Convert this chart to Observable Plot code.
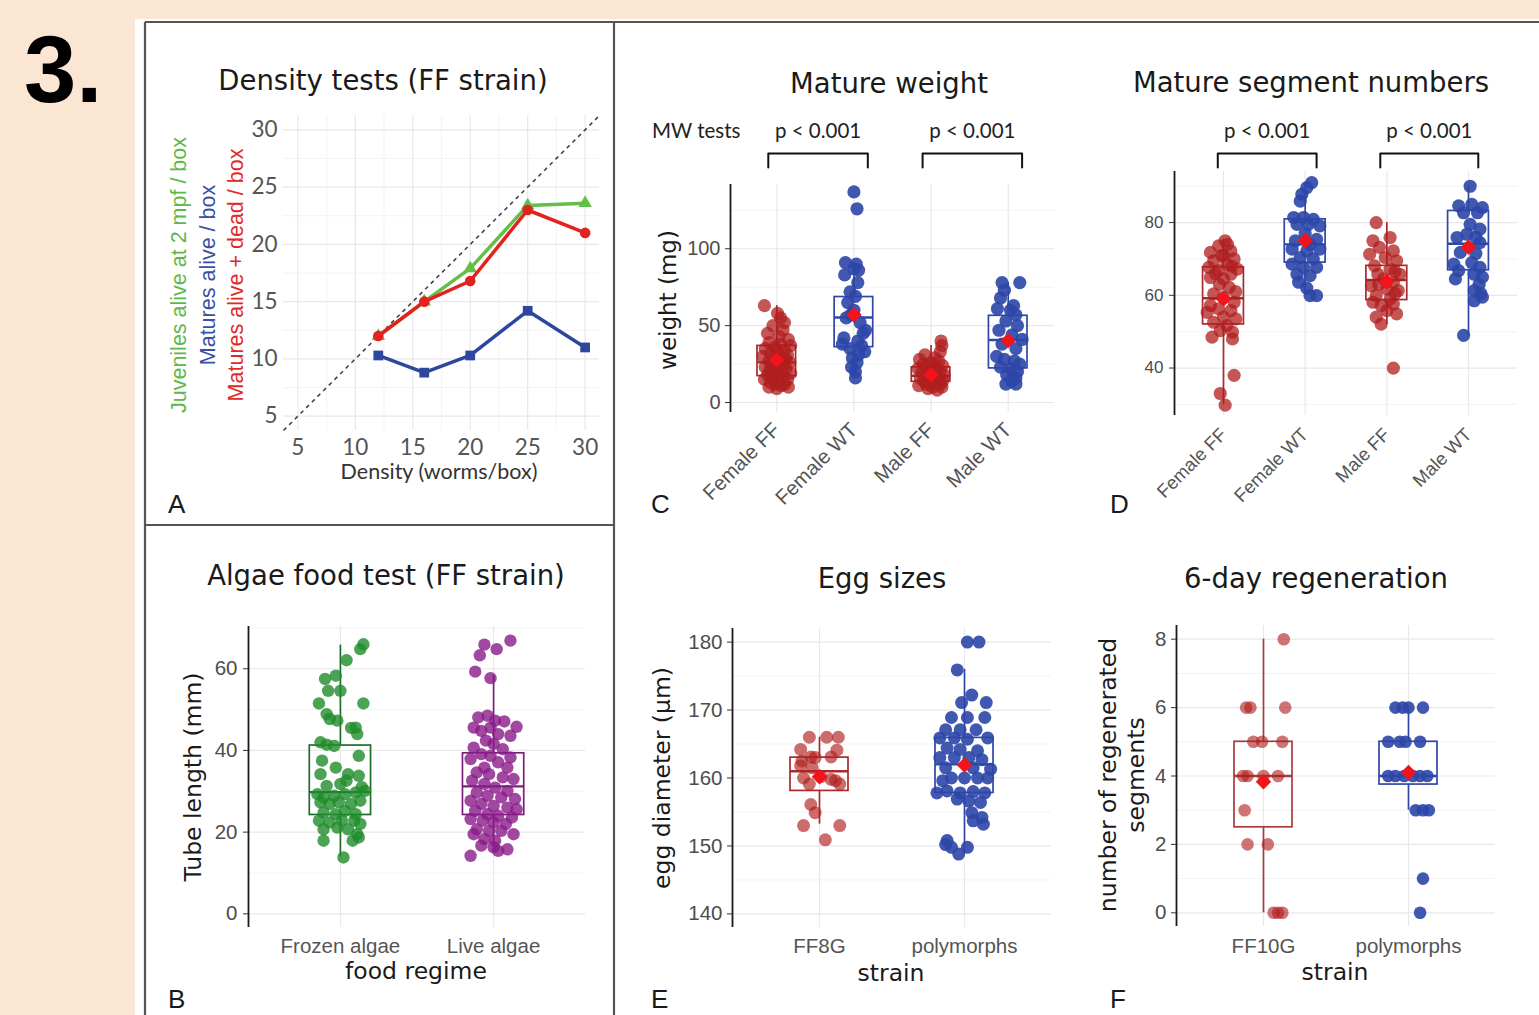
<!DOCTYPE html>
<html><head><meta charset="utf-8">
<script src="https://cdn.jsdelivr.net/npm/d3@7"></script>
<script src="https://cdn.jsdelivr.net/npm/@observablehq/plot@0.6"></script>
<style>
body{margin:0;background:#fbe5d3;}
#page{position:relative;width:1539px;height:1015px;overflow:hidden;background:#fbe5d3;}
</style></head><body><div id="page"></div>
<script>
// ---------------- DATA ----------------
// Panel A: density tests
const density = [12, 16, 20, 25, 30];
const juvenilesAlive = [12, 15, 17.9, 23.4, 23.6];
const maturesAlive = [10.3, 8.8, 10.3, 14.2, 11.0];
const maturesAliveDead = [12, 15, 16.8, 23.0, 21.0];
const densityTicks = [5, 10, 15, 20, 25, 30];
const densityMinor = [7.5, 12.5, 17.5, 22.5, 27.5];

// Panel C: mature weight (value, jitter offset)
const weightGroups = ["Female FF", "Female WT", "Male FF", "Male WT"];
const weightFemaleFF = [[63,-0.16],[58,0.01],[55,0.05],[52,0.10],[50,-0.05],[47,0.08],[45,-0.12],[43,0.03],[41,0.15],[39,-0.10],[38,0.05],[37,0.18],[36,-0.02],[35,-0.15],[34,0.10],[33,0.00],[32,-0.08],[31,0.14],[30,-0.18],[30,0.05],[29,-0.03],[28,0.12],[27,-0.10],[27,0.02],[26,0.17],[25,-0.06],[24,0.08],[23,-0.15],[23,0.00],[22,0.12],[21,-0.09],[20,0.05],[20,-0.02],[19,0.18],[18,-0.12],[17,0.08],[16,-0.05],[15,0.14],[15,-0.16],[14,0.02],[13,-0.08],[12,0.10],[12,-0.02],[11,0.06],[10,-0.10],[10,0.15],[9,0.00]];
const weightFemaleWT = [[137,0.00],[126,0.04],[91,-0.11],[90,0.03],[87,0.00],[86,0.06],[83,-0.12],[78,0.05],[72,-0.05],[69,0.02],[65,-0.08],[60,0.00],[57,-0.04],[55,-0.10],[52,0.08],[47,0.15],[45,0.12],[42,-0.13],[40,0.05],[38,-0.15],[37,0.10],[35,-0.05],[33,0.14],[31,0.06],[29,-0.02],[26,0.04],[23,-0.03],[20,0.02],[16,0.02]];
const weightMaleFF = [[40,0.13],[37,0.14],[33,0.12],[31,-0.08],[29,0.05],[28,-0.15],[27,0.10],[26,0.00],[25,-0.10],[24,0.15],[23,-0.05],[22,0.08],[22,-0.17],[21,0.03],[20,-0.12],[20,0.12],[19,-0.02],[18,0.17],[18,-0.08],[17,0.06],[16,-0.14],[16,0.10],[15,0.00],[14,-0.10],[14,0.15],[13,0.04],[12,-0.06],[12,0.12],[11,-0.16],[10,0.02],[10,0.14],[9,-0.04],[8,0.08]];
const weightMaleWT = [[78,-0.08],[78,0.15],[73,-0.05],[68,-0.10],[63,0.07],[61,-0.14],[60,0.03],[57,0.10],[53,-0.03],[50,0.12],[47,-0.12],[44,0.05],[41,0.18],[38,-0.08],[35,0.10],[30,-0.15],[28,-0.05],[27,0.08],[25,0.15],[23,-0.10],[22,0.03],[20,0.12],[18,-0.02],[16,0.10],[14,0.05],[12,-0.03],[12,0.10]];
// box stats per group: [q1, median, q3, lowerWhisker, upperWhisker]
const weightBox = [[17.2,26.1,36.8,9,63],[36,55.3,68.6,16,91],[13.5,17.4,22.9,8,37],[22.2,40.7,56.4,12,78]];
const weightMean = [27.7, 57, 17.9, 40.3];
const weightTicks = [0, 50, 100];
const weightMinor = [25, 75, 125];

// Panel D: mature segment numbers
const segFemaleFF = [[75,0.02],[73.6,-0.06],[72.2,0.09],[71.8,-0.16],[70.9,-0.02],[70,0.13],[69.5,-0.12],[68.6,0.04],[67.7,-0.18],[67.2,0.17],[66.8,-0.06],[65.8,0.09],[64.9,-0.16],[64.5,0],[62.2,0.07],[60.4,-0.12],[59.5,0],[58.1,0.13],[57.2,-0.16],[56.3,-0.06],[55.8,0.09],[55.3,-0.2],[54,0],[53.5,0.15],[52.6,-0.12],[51.7,0.04],[50.3,-0.04],[49.9,0.11],[48.5,-0.14],[48,0.11],[38,0.13],[33,-0.04],[29.8,0.02],[74,0.05],[71,0],[68,0.1],[66,-0.1],[63,-0.05],[61,0.15]];
const segFemaleWT = [[91,0.08],[89.6,0.02],[87.8,-0.04],[85.9,-0.06],[81.4,-0.14],[81.4,-0.02],[80.9,0.10],[79.5,-0.10],[79.5,0.04],[79.1,0.18],[75,-0.12],[75.4,0.14],[72.7,-0.16],[72.2,0.02],[72.7,0.18],[70.4,-0.06],[70,0.10],[68.6,-0.16],[67.7,-0.02],[67.7,0.14],[65.8,-0.10],[65.4,0.06],[63.6,-0.08],[62,0.02],[59.9,0.06],[59.9,0.14],[77,0],[74,0.06]];
const segMaleFF = [[80,-0.13],[75,-0.17],[75.9,0.04],[73.2,-0.09],[72.2,0.08],[71.3,-0.21],[70.4,-0.02],[69.5,0.12],[68.1,-0.15],[67.2,0.04],[65.8,-0.11],[65.8,0.16],[64.5,-0.04],[63.6,0.08],[62.6,-0.19],[61.7,0],[61.3,0.14],[59.9,-0.13],[59,0.04],[58.1,-0.17],[57.6,0.08],[57.2,-0.07],[55.8,0],[54.9,0.12],[54,-0.13],[52.1,-0.07],[40,0.08],[66.5,0.1],[63,-0.1],[60.5,0.1]];
const segMaleWT = [[90,0.02],[84.6,-0.12],[85,0.04],[84.1,0.17],[82.7,-0.06],[82.7,0.11],[79.5,0.02],[78.2,0.14],[75.9,-0.14],[76.8,-0.02],[76,0.09],[74.5,0.14],[71.8,-0.10],[71.5,0.09],[68.6,-0.18],[69,0.04],[67.7,0.14],[66.8,-0.12],[65.8,0.07],[65,0.17],[64.5,-0.16],[63,0.13],[61.3,0.07],[60.5,0.15],[59.5,0.17],[58.5,0.07],[49,-0.06]];
const segBox = [[52,59.2,67.7,30,75.4],[69,74,80.9,60,91],[58.7,64.2,68.1,52,80],[66.9,74.2,83.2,49,90]];
const segMean = [59, 75, 63.7, 73.3];
const segTicks = [40, 60, 80];
const segMinor = [30, 50, 70, 90];

// Panel B: algae food test
const foodGroups = ["Frozen algae", "Live algae"];
const tubeFrozen = [[66,0.15],[64.8,0.13],[62.1,0.04],[57.5,-0.10],[58.3,-0.03],[54.6,-0.08],[54.6,0],[51.5,-0.14],[51.5,0.15],[48.9,-0.09],[47.7,-0.07],[47.3,-0.02],[45.5,0.07],[45.6,0.10],[44,0.11],[42,-0.13],[41.4,-0.09],[41.1,-0.04],[38.7,0.12],[37.5,-0.12],[35.8,-0.03],[34.2,-0.13],[34.2,0.05],[33.8,0.12],[31,0.14],[31.3,-0.09],[31.8,0],[32.6,0.04],[29.3,-0.15],[28.5,-0.11],[28.9,-0.04],[29.3,0.03],[29.7,0.10],[30.1,0.16],[27.3,-0.13],[26.9,-0.07],[27.3,-0.01],[26.9,0.07],[27.7,0.13],[24.8,-0.11],[24.4,-0.03],[25.2,0.03],[24.4,0.10],[22.8,-0.14],[22.4,-0.07],[22.8,0.01],[22.8,0.09],[22,0.13],[20.7,-0.11],[21.1,-0.02],[20.7,0.05],[19.5,0.11],[17.9,-0.11],[17.9,0.08],[18.7,0.12],[13.8,0.02]];
const tubeLive = [[66.9,0.11],[65.9,-0.06],[64.8,0.02],[63.3,-0.09],[59.3,-0.12],[57.7,-0.02],[48.1,-0.10],[48.5,-0.04],[47.3,0.01],[47.1,0.07],[45.8,0.15],[45.6,-0.13],[44.8,-0.08],[45.6,-0.02],[44,0.03],[43.6,0.11],[42.4,-0.05],[41.6,0],[40.7,-0.13],[40.3,0.06],[39.1,-0.08],[38.7,-0.02],[38.3,0.11],[37.9,-0.15],[37.1,0.03],[35.8,-0.06],[35.8,0.09],[34.6,-0.11],[34.2,-0.03],[33.4,0.06],[33,0.13],[32.6,-0.14],[31.8,-0.06],[30.9,0.01],[30.1,0.09],[29.7,-0.11],[28.9,-0.04],[28.5,0.05],[28.1,0.14],[27.7,-0.15],[26.9,-0.08],[26.4,0],[26,0.09],[25.6,0.15],[25.2,-0.12],[24.4,-0.04],[24,0.03],[23.6,0.12],[23.2,-0.15],[22.8,-0.07],[22.4,0],[22,0.08],[20.7,-0.11],[20.3,-0.03],[20.3,0.05],[19.5,0.13],[19.5,-0.13],[18.3,-0.06],[17.9,0.01],[16.7,-0.08],[16.3,0],[15.8,0.09],[15.4,0.03],[14.2,-0.15]];
const tubeBox = [[24.2,29.8,41.2,13.9,65.8],[24.2,31.2,39.3,15.4,58.4]];
const tubeTicks = [0, 20, 40, 60];
const tubeMinor = [10, 30, 50, 70];

// Panel E: egg sizes
const eggGroups = ["FF8G", "polymorphs"];
const eggFF8G = [[166,-0.07],[166,0.05],[166,0.13],[164.2,-0.13],[164.1,0.12],[163.1,-0.06],[163,-0.03],[163.1,0.08],[162.5,-0.12],[161.8,-0.13],[161.5,-0.05],[160,-0.11],[160.2,0.01],[159.8,0.08],[159.1,-0.07],[159.1,0.14],[159.6,0.11],[156.1,-0.06],[154.9,-0.03],[153,-0.11],[153,0.14],[150.9,0.04]];
const eggPoly = [[180,0.02],[180,0.10],[175.9,-0.05],[172.2,0.05],[171.1,-0.02],[171.1,0.15],[168.9,-0.09],[168.9,0.02],[168.9,0.14],[167.1,-0.13],[167.1,-0.03],[167.1,0.08],[165.9,-0.17],[165.9,-0.07],[165.7,0.02],[165.9,0.16],[164.4,-0.12],[164.2,-0.03],[164,0.09],[163,-0.17],[163,-0.07],[163,0.03],[162.7,0.12],[161.5,-0.13],[161.5,0.06],[161.3,0.18],[160,-0.09],[160,0],[160,0.09],[160,0.16],[159.6,-0.15],[158.1,-0.12],[157.8,-0.03],[158,0.06],[157.8,0.14],[157.8,-0.19],[156.9,-0.05],[156.6,0.03],[156.4,0.11],[154.9,0.05],[154.2,0.12],[153.7,0.06],[153.2,0.13],[150.8,-0.12],[149.8,-0.09],[149.8,0.02],[148.8,-0.04],[150.2,-0.13]];
const eggBox = [[158.1,161,163,153.2,166],[157.8,162,165.9,149,176]];
const eggMean = [160.2, 161.9];
const eggTicks = [140, 150, 160, 170, 180];
const eggMinor = [145, 155, 165, 175];

// Panel F: 6-day regeneration
const regenGroups = ["FF10G", "polymorphs"];
const regenFF10G = [[8,0.14],[6,-0.12],[6,-0.09],[6,0.15],[5,-0.07],[5,-0.01],[5,0.13],[4,-0.14],[4,-0.11],[4,0],[4,0.10],[3,-0.13],[2,-0.11],[2,0.03],[0,0.07],[0,0.10],[0,0.13]];
const regenPoly = [[6,-0.09],[6,-0.04],[6,0],[6,0.10],[5,-0.14],[5,-0.06],[5,-0.02],[5,0.08],[4,-0.14],[4,-0.09],[4,-0.03],[4,0.03],[4,0.08],[4,0.13],[3,0.05],[3,0.10],[3,0.14],[1,0.10],[0,0.08]];
const regenBox = [[2.5,4,5,0,8],[3.75,4,5,3,6]];
const regenMean = [3.83, 4.1];
const regenTicks = [0, 2, 4, 6, 8];
const regenMinor = [1, 3, 5, 7];

// Significance brackets (category units) and labels
const weightBrackets = [[0.89, 2.18], [2.89, 4.18]];
const segBrackets = [[0.93, 2.14], [2.92, 4.12]];
const pLabel = "p < 0.001";

// ---------------- DRAWING ----------------
const W = 1539, H = 1015;
const page = document.getElementById("page");
const GRID = "#e8e8e8", GRIDMINOR = "#f0f0f0";
const RED = "#b01e1e", BLUE = "#2c46a8", GREEN = "#1f8c2c", PURPLE = "#8a1a8a", MEANRED = "#f2131b";
const TICKCOL = "#4d4d4d";

const bg = document.createElement("div");
Object.assign(bg.style, {position: "absolute", left: "135px", top: "19px", width: (W - 135) + "px", height: (H - 19) + "px", background: "#fff"});
page.appendChild(bg);

function frame(L, T, R, B) {
  return {width: W, height: H, marginLeft: L, marginTop: T, marginRight: W - R, marginBottom: H - B};
}
function addPlot(opts) {
  const svg = Plot.plot(opts);
  Object.assign(svg.style, {position: "absolute", left: "0px", top: "0px", background: "transparent", overflow: "visible", maxWidth: "none"});
  page.appendChild(svg);
}

// ---- Panel A
(function () {
  const dom = [3.75, 31.25];
  const series = [
    {values: juvenilesAlive, color: "#64be47", symbol: "triangle", r: 5},
    {values: maturesAlive, color: "#2d479f", symbol: "square", r: 5.5},
    {values: maturesAliveDead, color: "#e3221f", symbol: "circle", r: 5.3},
  ];
  const marks = [
    Plot.ruleY(densityMinor, {stroke: GRIDMINOR, strokeWidth: 0.8}),
    Plot.ruleX(densityMinor, {stroke: GRIDMINOR, strokeWidth: 0.8}),
    Plot.ruleY(densityTicks, {stroke: GRID, strokeWidth: 1.2}),
    Plot.ruleX(densityTicks, {stroke: GRID, strokeWidth: 1.2}),
    Plot.link([dom], {x1: d => d[0], y1: d => d[0], x2: d => d[1], y2: d => d[1], stroke: "#444", strokeWidth: 1.6, strokeDasharray: "4,4"}),
  ];
  for (const s of series) {
    const rows = density.map((d, i) => ({x: d, y: s.values[i]}));
    marks.push(Plot.line(rows, {x: "x", y: "y", stroke: s.color, strokeWidth: 3.5}));
    marks.push(Plot.dot(rows, {x: "x", y: "y", symbol: s.symbol, fill: s.color, r: s.r}));
  }
  marks.push(Plot.axisX(densityTicks, {tickSize: 0, tickPadding: 9, fontSize: 22.5, fontFamily: "Lato", color: "#555", label: null}));
  marks.push(Plot.axisY(densityTicks, {tickSize: 0, tickPadding: 6, fontSize: 22.5, fontFamily: "Lato", color: "#555", label: null}));
  addPlot({...frame(283, 115, 599, 430), x: {domain: dom, axis: null}, y: {domain: dom, axis: null}, marks});
})();

// ---- Box panels
function boxPanel(c) {
  const n = c.labels.length;
  const cats = d3.range(1, n + 1);
  const marks = [
    Plot.ruleY(c.yMinor, {stroke: GRIDMINOR, strokeWidth: 0.8}),
    Plot.ruleY(c.yTicks, {stroke: GRID, strokeWidth: 1.2}),
    Plot.ruleX(cats, {stroke: GRID, strokeWidth: 1.2}),
  ];
  c.groups.forEach((g, i) => {
    const cat = i + 1, hw = c.bw / 2;
    const b = [c.box[i]];
    marks.push(Plot.ruleX(b, {x: () => cat, y1: d => d[2], y2: d => d[4], stroke: g.line, strokeWidth: 1.7}));
    marks.push(Plot.ruleX(b, {x: () => cat, y1: d => d[3], y2: d => d[0], stroke: g.line, strokeWidth: 1.7}));
    marks.push(Plot.rect(b, {x1: () => cat - hw, x2: () => cat + hw, y1: d => d[0], y2: d => d[2], fill: "none", stroke: g.line, strokeWidth: 1.7}));
    marks.push(Plot.ruleY(b, {y: d => d[1], x1: () => cat - hw, x2: () => cat + hw, stroke: g.line, strokeWidth: 2.4}));
  });
  c.groups.forEach((g, i) => {
    const cat = i + 1;
    marks.push(Plot.dot(g.pts, {x: d => cat + d[1], y: d => d[0], r: c.r, fill: g.fill, fillOpacity: g.op}));
  });
  if (c.mean) {
    marks.push(Plot.dot(c.mean, {x: (d, i) => i + 1, y: d => d, symbol: "diamond2", r: 7, fill: MEANRED}));
  }
  marks.push(Plot.ruleX([0.4], {stroke: "#1a1a1a", strokeWidth: 1.8}));
  marks.push(Plot.axisY(c.yTicks, {tickSize: 5, tickPadding: c.yPad, stroke: "#333", color: TICKCOL, fontSize: c.fs, fontFamily: "Liberation Sans", label: null}));
  marks.push(Plot.axisX(cats, {tickSize: 0, tickPadding: c.xPad, tickRotate: c.rotate || 0, tickFormat: d => c.labels[d - 1], color: "#555", fontSize: c.xfs || c.fs, fontFamily: "Liberation Sans", label: null}));
  if (c.brackets) {
    const rows = c.brackets.flatMap((br, k) => [
      {k, x: br[0], y: c.bY[1]}, {k, x: br[0], y: c.bY[0]}, {k, x: br[1], y: c.bY[0]}, {k, x: br[1], y: c.bY[1]}]);
    marks.push(Plot.line(rows, {x: "x", y: "y", z: "k", stroke: "#111", strokeWidth: 2}));
    marks.push(Plot.text(c.brackets, {x: d => (d[0] + d[1]) / 2, y: () => c.bY[2], text: () => pLabel, fontFamily: "Lato", fontSize: 20.5, fill: "#222", lineAnchor: "middle"}));
  }
  addPlot({...c.frame, x: {domain: [0.4, n + 0.6], axis: null}, y: {domain: c.yDomain, axis: null}, marks});
}

boxPanel({frame: frame(730, 184, 1054, 412), labels: weightGroups, yDomain: [-6.5, 141.8], yTicks: weightTicks, yMinor: weightMinor,
  groups: [{pts: weightFemaleFF, fill: RED, op: 0.75, line: "#a82a2a"}, {pts: weightFemaleWT, fill: BLUE, op: 0.9, line: "#3047a8"},
           {pts: weightMaleFF, fill: RED, op: 0.75, line: "#a82a2a"}, {pts: weightMaleWT, fill: BLUE, op: 0.9, line: "#3047a8"}],
  box: weightBox, mean: weightMean, bw: 0.5, r: 6.6, fs: 20, xfs: 20.5, yPad: 5, xPad: 14, rotate: -45,
  brackets: weightBrackets, bY: [162, 152.9, 176.3]});

boxPanel({frame: frame(1174, 171, 1517, 415), labels: weightGroups, yDomain: [26.95, 94.05], yTicks: segTicks, yMinor: segMinor,
  groups: [{pts: segFemaleFF, fill: RED, op: 0.75, line: "#a82a2a"}, {pts: segFemaleWT, fill: BLUE, op: 0.9, line: "#3047a8"},
           {pts: segMaleFF, fill: RED, op: 0.75, line: "#a82a2a"}, {pts: segMaleWT, fill: BLUE, op: 0.9, line: "#3047a8"}],
  box: segBox, mean: segMean, bw: 0.5, r: 6.6, fs: 17, xfs: 18.5, yPad: 6, xPad: 16, rotate: -45,
  brackets: segBrackets, bY: [99.0, 95.15, 105.05]});

boxPanel({frame: frame(248, 626, 585, 927), labels: foodGroups, yDomain: [-3.35, 70.35], yTicks: tubeTicks, yMinor: tubeMinor,
  groups: [{pts: tubeFrozen, fill: GREEN, op: 0.8, line: "#1f6f2a"}, {pts: tubeLive, fill: PURPLE, op: 0.8, line: "#7a1f7a"}],
  box: tubeBox, bw: 0.4, r: 6.2, fs: 20.5, yPad: 6, xPad: 11});

boxPanel({frame: frame(732, 628, 1051, 927), labels: eggGroups, yDomain: [138, 182], yTicks: eggTicks, yMinor: eggMinor,
  groups: [{pts: eggFF8G, fill: RED, op: 0.65, line: "#a82a2a"}, {pts: eggPoly, fill: BLUE, op: 0.9, line: "#3047a8"}],
  box: eggBox, mean: eggMean, bw: 0.4, r: 6.5, fs: 20.5, yPad: 5, xPad: 11});

boxPanel({frame: frame(1176, 625, 1495, 926), labels: regenGroups, yDomain: [-0.4, 8.4], yTicks: regenTicks, yMinor: regenMinor,
  groups: [{pts: regenFF10G, fill: RED, op: 0.62, line: "#a83a3a"}, {pts: regenPoly, fill: BLUE, op: 0.9, line: "#3047a8"}],
  box: regenBox, mean: regenMean, bw: 0.4, r: 6.3, fs: 20.5, yPad: 5, xPad: 12});

// ---- Annotation layer: borders, titles, axis titles, panel letters
const ann = d3.select(page).append("svg").attr("width", W).attr("height", H)
  .style("position", "absolute").style("left", "0px").style("top", "0px").style("overflow", "visible");
const borders = [[145, 22, W, 22], [145, 22, 145, H], [614, 22, 614, H], [145, 525, 614, 525]];
ann.selectAll("line.b").data(borders).join("line").attr("class", "b")
  .attr("x1", d => d[0]).attr("y1", d => d[1]).attr("x2", d => d[2]).attr("y2", d => d[3])
  .attr("stroke", "#555").attr("stroke-width", 2.2);

const TITLE = "DejaVu Sans", SANS = "Liberation Sans";
const texts = [
  {t: "3.", x: 24, y: 102, fs: 94, ff: SANS, fw: "bold", a: "start", c: "#000"},
  {t: "Density tests (FF strain)", x: 383, y: 90, fs: 27.5, ff: TITLE},
  {t: "Mature weight", x: 889, y: 93, fs: 27.5, ff: TITLE},
  {t: "Mature segment numbers", x: 1311, y: 92, fs: 27.5, ff: TITLE},
  {t: "Algae food test (FF strain)", x: 386, y: 585, fs: 27.5, ff: TITLE},
  {t: "Egg sizes", x: 882, y: 588, fs: 27.5, ff: TITLE},
  {t: "6-day regeneration", x: 1316, y: 588, fs: 27.5, ff: TITLE},
  {t: "MW tests", x: 652, y: 138, fs: 20.5, ff: "Lato", a: "start", c: "#222"},
  {t: "Density (worms/box)", x: 439, y: 479, fs: 21.5, ff: "Lato", c: "#333"},
  {t: "food regime", x: 416, y: 979, fs: 23.5, ff: TITLE},
  {t: "strain", x: 891, y: 981, fs: 23.5, ff: TITLE},
  {t: "strain", x: 1335, y: 980, fs: 23.5, ff: TITLE},
  {t: "Juveniles alive at 2 mpf / box", x: 186, y: 275, fs: 21.5, ff: SANS, c: "#5cb848", rot: true},
  {t: "Matures alive / box", x: 215, y: 275, fs: 21.5, ff: SANS, c: "#3a4fa6", rot: true},
  {t: "Matures alive + dead / box", x: 243, y: 275, fs: 21.5, ff: SANS, c: "#df2a26", rot: true},
  {t: "weight (mg)", x: 676, y: 300, fs: 23, ff: TITLE, rot: true},
  {t: "Tube length (mm)", x: 201, y: 777, fs: 23.5, ff: TITLE, rot: true},
  {t: "egg diameter (µm)", x: 670, y: 778, fs: 23.5, ff: TITLE, rot: true},
  {t: "number of regenerated", x: 1116, y: 775, fs: 23.5, ff: TITLE, rot: true},
  {t: "segments", x: 1144, y: 775, fs: 23.5, ff: TITLE, rot: true},
  {t: "A", x: 168, y: 513, fs: 26, ff: SANS, a: "start"},
  {t: "C", x: 651, y: 513, fs: 26, ff: SANS, a: "start"},
  {t: "D", x: 1110, y: 513, fs: 26, ff: SANS, a: "start"},
  {t: "B", x: 168, y: 1008, fs: 26, ff: SANS, a: "start"},
  {t: "E", x: 651, y: 1008, fs: 26, ff: SANS, a: "start"},
  {t: "F", x: 1110, y: 1008, fs: 26, ff: SANS, a: "start"},
];
ann.selectAll("text").data(texts).join("text")
  .attr("transform", d => `translate(${d.x},${d.y})` + (d.rot ? " rotate(-90)" : ""))
  .attr("text-anchor", d => d.a || "middle")
  .attr("font-family", d => d.ff).attr("font-size", d => d.fs).attr("font-weight", d => d.fw || "normal")
  .attr("fill", d => d.c || "#1a1a1a").text(d => d.t);
</script></body></html>
